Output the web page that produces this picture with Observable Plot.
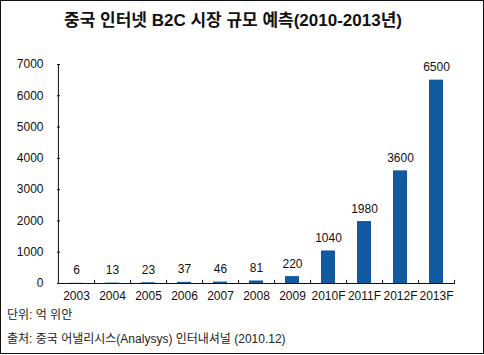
<!DOCTYPE html>
<html>
<head>
<meta charset="utf-8">
<script src="https://cdn.jsdelivr.net/npm/d3@7"></script>
<script src="https://cdn.jsdelivr.net/npm/@observablehq/plot@0.6"></script>
<style>
  html, body { margin: 0; padding: 0; background: #fff; }
  #wrap { position: relative; width: 484px; height: 355px; overflow: hidden; }
  #frame { position: absolute; left: 0; top: 0; width: 482px; height: 352px; border: 1px solid #111; }
  #title { position: absolute; left: 0; width: 466px; top: 6px; text-align: center;
    font: bold 17px "Liberation Sans", "Noto Sans CJK KR", sans-serif; color: #111; }
  .cap { position: absolute; left: 7px; font: 12px "Liberation Sans", "Noto Sans CJK KR", sans-serif; color: #222; }
  #chart { position: absolute; left: 0; top: 0; }
</style>
</head>
<body>
<div id="wrap">
  <div id="chart"></div>
  <div id="frame"></div>
  <div id="title">중국 인터넷 B2C 시장 규모 예측(2010-2013년)</div>
  <div class="cap" style="top:305px">단위: 억 위안</div>
  <div class="cap" style="top:329px">출처: 중국 어낼리시스(Analysys) 인터내셔널 (2010.12)</div>
</div>
<script>
const years = ["2003","2004","2005","2006","2007","2008","2009","2010F","2011F","2012F","2013F"];
const values = [6, 13, 23, 37, 46, 81, 220, 1040, 1980, 3600, 6500];
const yTicks = [0, 1000, 2000, 3000, 4000, 5000, 6000, 7000];

const data = years.map((y, i) => ({year: y, value: values[i]}));
const W = 484, H = 355, mL = 57, mR = 29, mT = 64, mB = 72;
const step = (W - mL - mR) / years.length;
const font = "'Liberation Sans', Arial, sans-serif";

const chart = Plot.plot({
  width: W, height: H,
  marginLeft: mL, marginRight: mR, marginTop: mT, marginBottom: mB,
  style: {fontFamily: font, fontSize: "12px", color: "#111", background: "transparent"},
  x: {domain: years, paddingInner: 0.62, paddingOuter: 0.31, label: null},
  y: {domain: [0, 7000], label: null},
  marks: [
    Plot.barY(data, {x: "year", y: "value", fill: "#125a9f"}),
    Plot.text(data, {x: "year", y: "value", text: d => String(d.value), dy: -9, lineAnchor: "bottom", fontSize: 12, fill: "#111"}),
    Plot.ruleY([0], {stroke: "#111"}),
    Plot.ruleX([years[0]], {x: d => d, dx: -step / 2, y1: 0, y2: 7000, stroke: "#111"}),
    Plot.ruleX(years, {x: d => d, dx: step / 2, y1: 0, y2: 100, stroke: "#111"}),
    Plot.axisY({ticks: yTicks, tickSize: 0, tickPadding: 14, tickFormat: d => String(d), fontSize: 12, label: null}),
    Plot.axisY({ticks: yTicks, tickSize: 3, dx: 3, tickFormat: () => "", stroke: "#111", label: null}),
    Plot.axisX({tickSize: 0, tickPadding: 8, fontSize: 12, label: null})
  ]
});
document.getElementById("chart").appendChild(chart);
</script>
</body>
</html>
